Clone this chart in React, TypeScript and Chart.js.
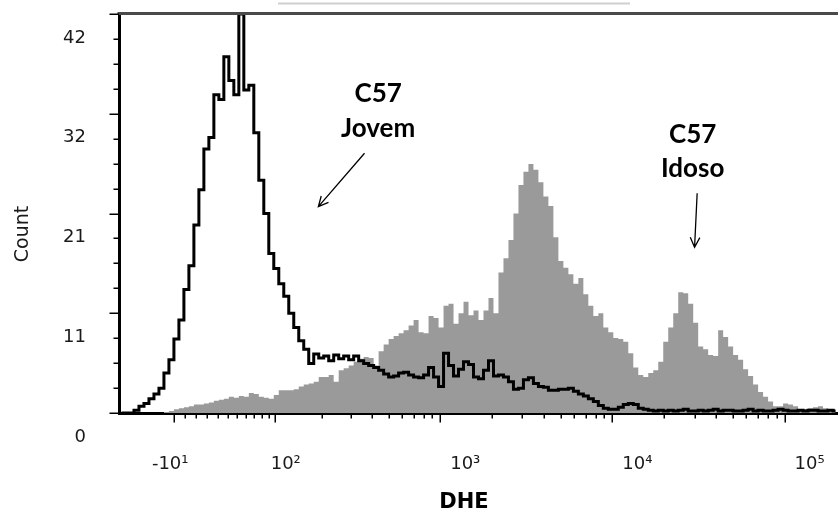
import React, { useEffect, useRef } from 'react';
import { Chart, registerables } from 'chart.js';

Chart.register(...registerables);

// Display axis: biexponential units (decades), u = asinh(v / BIEX_W) / ln(10)
const BIEX_W = 66;
const X_MIN = -0.384;
const X_MAX = 3.792;
const BIN_W = 0.029;

// Histogram counts per display bin (144 bins from X_MIN, width BIN_W)
const JOVEM = [
  0, 0, 0, 0.3, 0.7, 1.0, 1.5, 2.0, 2.6, 4.2,
  5.6, 7.8, 9.8, 13.0, 15.5, 19.8, 23.5, 27.8, 29.0, 33.5,
  33.0, 37.5, 35.0, 33.5, 42.0, 34.0, 34.5, 29.5, 24.5, 21.0,
  16.8, 15.2, 13.6, 12.3, 10.5, 9.0, 7.6, 6.7, 5.2, 6.2,
  5.8, 6.0, 5.5, 6.1, 5.7, 6.0, 5.6, 6.0, 5.5, 5.2,
  5.0, 4.8, 4.5, 4.1, 3.8, 3.9, 4.2, 4.3, 4.0, 3.8,
  3.7, 4.0, 4.8, 3.8, 2.8, 6.3, 5.0, 3.9, 4.6, 5.4,
  5.1, 3.8, 3.6, 4.5, 5.5, 3.9, 4.0, 3.8, 3.3, 2.5,
  2.6, 3.5, 3.7, 3.1, 2.8, 2.7, 2.4, 2.4, 2.5, 2.5,
  2.6, 2.3, 2.0, 1.8, 1.5, 1.2, 0.8, 0.5, 0.4, 0.4,
  0.6, 0.9, 1.0, 0.9, 0.5, 0.4, 0.3, 0.2, 0.3, 0.2,
  0.3, 0.2, 0.3, 0.4, 0.2, 0.2, 0.3, 0.2, 0.3, 0.4,
  0.2, 0.3, 0.3, 0.2, 0.2, 0.3, 0.4, 0.2, 0.3, 0.2,
  0.2, 0.3, 0.4, 0.3, 0.2, 0.2, 0.3, 0.2, 0.3, 0.3,
  0.2, 0.2, 0.3, 0.2,
];

const IDOSO = [
  0, 0, 0, 0, 0, 0, 0, 0, 0, 0.1,
  0.2, 0.4, 0.5, 0.6, 0.7, 0.9, 0.9, 1.0, 1.1, 1.3,
  1.4, 1.5, 1.7, 1.6, 1.8, 1.7, 2.1, 2.0, 1.7, 1.6,
  1.5, 1.9, 2.4, 2.4, 2.4, 2.5, 2.8, 3.0, 3.1, 3.3,
  3.8, 3.8, 4.0, 3.3, 4.5, 4.7, 5.0, 5.4, 5.7, 5.9,
  5.8, 5.0, 6.5, 7.2, 7.8, 8.1, 8.4, 8.7, 9.2, 9.8,
  8.5, 8.4, 10.2, 10.0, 9.0, 11.3, 11.5, 9.4, 10.5, 11.7,
  10.3, 10.8, 9.8, 10.8, 12.1, 10.5, 14.8, 16.3, 18.2, 21.0,
  24.0, 25.4, 26.2, 25.6, 24.3, 22.8, 21.8, 18.5, 16.0, 15.3,
  14.6, 13.6, 14.2, 12.5, 11.3, 10.2, 10.5, 9.0, 8.5, 7.9,
  7.8, 7.5, 6.3, 4.8, 4.0, 3.8, 4.2, 4.5, 5.4, 7.5,
  9.0, 10.5, 12.7, 12.6, 11.5, 9.5, 7.0, 6.7, 6.1, 6.0,
  8.7, 8.0, 7.0, 6.1, 5.6, 4.6, 3.9, 3.0, 2.2, 1.7,
  1.2, 0.7, 0.7, 1.0, 0.9, 0.7, 0.4, 0.4, 0.5, 0.6,
  0.7, 0.5, 0.4, 0.4,
];

const X_MAJOR = [-10, 100, 1000, 10000, 100000];
const X_MAJOR_LABELS = ['-10¹          ', '10²     ', '10³', '10⁴', '10⁵'];
const X_MINOR = [
  0, 10, 20, 30, 40, 50, 60, 70, 80, 90,
  200, 300, 400, 500, 600, 700, 800, 900,
  2000, 3000, 4000, 5000, 6000, 7000, 8000, 9000,
  20000, 30000, 40000, 50000, 60000, 70000, 80000, 90000,
];
const Y_MAX = 42;
const Y_STEPS = 16;
const Y_LABEL_EVERY = 4;

const ANNOTATIONS = [
  { lines: ['C57', 'Jovem'], x: 1.121, baselines: [32.74, 29.05], arrow: [1.042, 27.34, 0.774, 21.72] },
  { lines: ['C57', 'Idoso'], x: 2.948, baselines: [28.42, 24.84], arrow: [2.974, 23.13, 2.959, 17.44] },
];

const biex = (v: number) => Math.asinh(v / BIEX_W) / Math.LN10;
const toPoints = (arr: number[]) => arr.map((c, i) => ({ x: X_MIN + (i + 0.5) * BIN_W, y: c }));

const TICK_FONT = { family: '"DejaVu Sans", sans-serif', size: 18 };

const decor = {
  id: 'decor',
  afterDraw(chart: any) {
    const { ctx, chartArea, scales } = chart;
    const xs = scales.x;
    const ys = scales.y;
    ctx.save();

    // faint scan line above plot
    ctx.strokeStyle = '#cfcfcf';
    ctx.lineWidth = 2;
    ctx.beginPath();
    ctx.moveTo(278, 3.5);
    ctx.lineTo(630, 3.5);
    ctx.stroke();

    // top frame line
    ctx.strokeStyle = '#4a4a4a';
    ctx.lineWidth = 3;
    ctx.beginPath();
    ctx.moveTo(chartArea.left - 1.5, chartArea.top - 0.5);
    ctx.lineTo(chartArea.right, chartArea.top - 0.5);
    ctx.stroke();

    // y tick marks
    ctx.strokeStyle = '#000';
    ctx.lineWidth = 1.5;
    ys.ticks.forEach((t: any, i: number) => {
      const y = Math.round(ys.getPixelForValue(t.value)) + 0.25;
      const len = i % Y_LABEL_EVERY === 0 ? 8 : 4;
      ctx.beginPath();
      ctx.moveTo(chartArea.left - 1.5 - len, y);
      ctx.lineTo(chartArea.left, y);
      ctx.stroke();
    });

    // x tick marks
    const drawX = (v: number, len: number) => {
      const x = Math.round(xs.getPixelForValue(biex(v))) + 0.25;
      ctx.beginPath();
      ctx.moveTo(x, chartArea.bottom);
      ctx.lineTo(x, chartArea.bottom + 1.5 + len);
      ctx.stroke();
    };
    X_MAJOR.forEach((v) => drawX(v, 8));
    X_MINOR.forEach((v) => drawX(v, 4));

    // axis titles
    ctx.fillStyle = '#1a1a1a';
    ctx.font = '19px "DejaVu Sans", sans-serif';
    ctx.textAlign = 'center';
    ctx.textBaseline = 'middle';
    ctx.save();
    ctx.translate(23, 234);
    ctx.rotate(-Math.PI / 2);
    ctx.fillText('Count', 0, 0);
    ctx.restore();

    ctx.fillStyle = '#000';
    ctx.font = 'bold 21px "DejaVu Sans", sans-serif';
    ctx.fillText('DHE', 464, 503);

    // annotations
    ctx.font = 'bold 26px Lato, "Open Sans", sans-serif';
    ctx.textBaseline = 'alphabetic';
    ctx.lineWidth = 1.3;
    ANNOTATIONS.forEach((a) => {
      const x = xs.getPixelForValue(a.x);
      a.lines.forEach((line, i) => {
        ctx.fillText(line, x, ys.getPixelForValue(a.baselines[i]));
      });
      const x1 = xs.getPixelForValue(a.arrow[0]);
      const y1 = ys.getPixelForValue(a.arrow[1]);
      const x2 = xs.getPixelForValue(a.arrow[2]);
      const y2 = ys.getPixelForValue(a.arrow[3]);
      ctx.beginPath();
      ctx.moveTo(x1, y1);
      ctx.lineTo(x2, y2);
      const ang = Math.atan2(y2 - y1, x2 - x1);
      const head = 11;
      const spread = 0.45;
      ctx.moveTo(x2 - head * Math.cos(ang - spread), y2 - head * Math.sin(ang - spread));
      ctx.lineTo(x2, y2);
      ctx.lineTo(x2 - head * Math.cos(ang + spread), y2 - head * Math.sin(ang + spread));
      ctx.stroke();
    });

    ctx.restore();
  },
};

const zeroPadding = (s: any) => {
  s.paddingTop = 0;
  s.paddingBottom = 0;
  s.paddingLeft = 0;
  s.paddingRight = 0;
};

export default function App() {
  const ref = useRef<HTMLCanvasElement>(null);

  useEffect(() => {
    if (!ref.current) return;
    const chart = new Chart(ref.current, {
      type: 'line',
      data: {
        datasets: [
          {
            label: 'C57 Jovem',
            data: toPoints(JOVEM),
            borderColor: '#000',
            borderWidth: 3,
            stepped: 'middle',
            fill: false,
            pointRadius: 0,
          },
          {
            label: 'C57 Idoso',
            data: toPoints(IDOSO),
            borderColor: '#9a9a9a',
            backgroundColor: '#9a9a9a',
            borderWidth: 0,
            stepped: 'middle',
            fill: 'origin',
            pointRadius: 0,
          },
        ],
      },
      options: {
        animation: false,
        responsive: false,
        devicePixelRatio: 1,
        layout: { padding: { top: 14, right: 0, left: 0, bottom: 0 } },
        plugins: { legend: { display: false }, tooltip: { enabled: false } },
        scales: {
          x: {
            type: 'linear',
            min: X_MIN,
            max: X_MAX,
            afterBuildTicks: (s: any) => {
              s.ticks = X_MAJOR.map((v) => ({ value: biex(v) }));
            },
            afterFit: (s: any) => {
              s.height = 106;
              zeroPadding(s);
            },
            grid: { display: true, drawOnChartArea: false, drawTicks: false },
            border: { display: true, color: '#000', width: 3 },
            ticks: {
              autoSkip: false,
              maxRotation: 0,
              padding: 41,
              labelOffset: 25,
              color: '#1a1a1a',
              font: TICK_FONT,
              callback: (_v: any, i: number) => X_MAJOR_LABELS[i],
            },
          },
          y: {
            type: 'linear',
            min: 0,
            max: Y_MAX,
            afterBuildTicks: (s: any) => {
              s.ticks = Array.from({ length: Y_STEPS + 1 }, (_, i) => ({ value: (i * Y_MAX) / Y_STEPS }));
            },
            afterFit: (s: any) => {
              s.width = 119;
              zeroPadding(s);
            },
            grid: { display: true, drawOnChartArea: false, drawTicks: false },
            border: { display: true, color: '#000', width: 3 },
            ticks: {
              autoSkip: false,
              padding: 33,
              labelOffset: 24,
              color: '#1a1a1a',
              font: TICK_FONT,
              callback: (v: any, i: number) => (i % Y_LABEL_EVERY === 0 ? String(Math.round(Number(v))) : ''),
            },
          },
        },
      },
      plugins: [decor],
    } as any);
    return () => chart.destroy();
  }, []);

  return (
    <div style={{ position: 'absolute', left: 0, top: 0, width: 838, height: 519, background: '#fff' }}>
      <canvas ref={ref} width={838} height={519} style={{ display: 'block' }} />
    </div>
  );
}
